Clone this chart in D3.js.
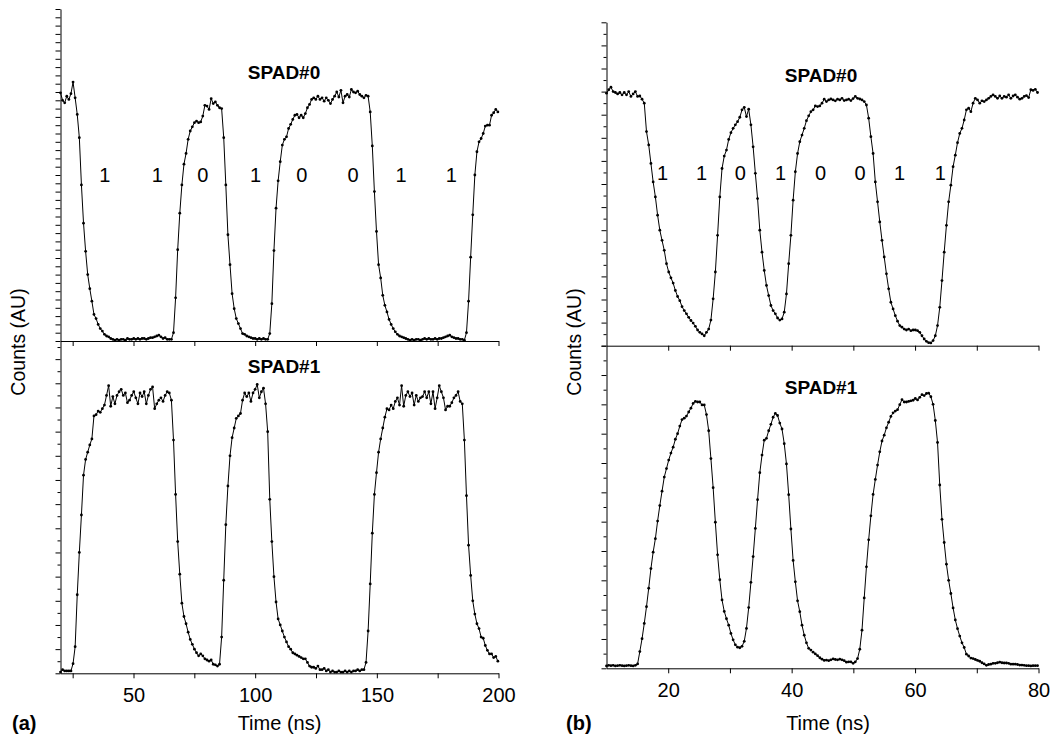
<!DOCTYPE html>
<html>
<head>
<meta charset="utf-8">
<script src="https://cdn.jsdelivr.net/npm/d3@7"></script>
<style>
  body { margin: 0; background: #fff; }
  svg text { font-family: "Liberation Sans", Arial, Helvetica, sans-serif; fill: #000; }
  .trace { fill: none; stroke: #000; stroke-width: 1; }
  .dot { fill: #000; }
  .axis path, .axis line { stroke: #000; stroke-width: 1; }
</style>
</head>
<body>
<svg id="chart" width="1063" height="735"></svg>
<script>
// sampling of the two recordings (ns)
const aStart = 20, aStep = 0.86;
const bStart = 10, bStep = 0.36;

// panel (a), 200 ns window
const aSpad0 = [
  29.9, 29.0, 28.7, 29.5, 29.1, 29.8, 31.2, 29.3, 27.3, 24.5,
  18.8, 14.2, 10.8, 8.0, 6.3, 4.8, 3.2, 2.7, 2.0, 1.5,
  1.2, 0.8, 0.6, 0.5, 0.3, 0.2, 0.1, 0.2, 0.1, 0.2,
  0.2, 0.1, 0.3, 0.2, 0.2, 0.3, 0.2, 0.3, 0.2, 0.3,
  0.3, 0.2, 0.3, 0.4, 0.4, 0.5, 0.6, 0.7, 0.5, 0.3,
  0.4, 0.2, 0.2, 0.2, 1.0, 5.2, 11.0, 15.4, 18.8, 21.3,
  22.6, 24.3, 25.3, 25.8, 26.3, 26.5, 26.3, 26.4, 27.1, 28.4,
  28.3, 27.9, 29.2, 28.6, 28.8, 28.4, 28.1, 28.0, 24.5, 18.8,
  12.8, 9.2, 5.7, 3.9, 2.7, 2.1, 1.5, 0.9, 0.8, 0.6,
  0.5, 0.4, 0.3, 0.3, 0.2, 0.3, 0.2, 0.3, 0.2, 0.2,
  0.9, 4.5, 10.9, 16.0, 19.3, 21.6, 23.6, 24.3, 24.6, 25.6,
  26.1, 26.7, 27.2, 27.3, 26.9, 27.2, 26.9, 27.4, 28.1, 28.5,
  29.1, 29.3, 29.1, 29.5, 29.1, 29.3, 28.9, 29.3, 29.0, 28.6,
  29.1, 29.5, 30.0, 29.4, 30.2, 28.7, 29.5, 29.7, 29.4, 30.3,
  30.0, 29.9, 30.1, 29.7, 29.5, 29.3, 29.6, 29.5, 27.6, 23.5,
  18.0, 13.2, 9.2, 7.6, 5.5, 4.3, 3.5, 2.6, 2.0, 1.5,
  1.1, 0.8, 0.6, 0.5, 0.4, 0.3, 0.2, 0.1, 0.2, 0.1,
  0.2, 0.2, 0.1, 0.2, 0.3, 0.2, 0.3, 0.2, 0.2, 0.3,
  0.2, 0.3, 0.3, 0.4, 0.5, 0.6, 0.7, 0.5, 0.4, 0.3,
  0.3, 0.2, 0.2, 0.1, 1.0, 4.8, 10.1, 15.2, 20.0, 22.8,
  24.0, 24.4, 25.0, 25.9, 26.0, 26.0, 27.2, 27.5, 27.9, 27.6
];
const aSpad1 = [
  0.1, 0.3, 0.2, 0.2, 0.2, 0.2, 0.8, 2.2, 6.5, 10.0,
  13.1, 16.4, 17.7, 18.3, 18.9, 19.4, 21.3, 21.4, 21.7, 21.6,
  21.9, 22.2, 23.0, 23.8, 22.1, 22.9, 22.3, 23.0, 23.3, 23.5,
  23.0, 23.2, 22.4, 22.6, 23.0, 23.3, 22.8, 22.3, 23.2, 22.9,
  23.3, 22.3, 23.0, 23.5, 23.7, 21.9, 22.3, 22.6, 22.8, 22.5,
  23.0, 23.3, 23.2, 22.6, 19.3, 14.8, 10.9, 8.2, 5.8, 4.7,
  4.1, 3.4, 2.8, 2.4, 2.0, 1.7, 1.45, 1.6, 1.45, 1.2,
  1.1, 1.0, 1.1, 0.75, 0.7, 0.6, 0.75, 3.0, 7.7, 12.3,
  15.5, 18.0, 19.5, 20.3, 21.1, 21.3, 21.5, 22.6, 23.2, 22.9,
  23.2, 22.5, 23.2, 23.5, 23.9, 22.8, 23.3, 23.6, 22.3, 20.0,
  14.4, 10.9, 8.0, 5.9, 4.5, 4.0, 3.5, 3.0, 2.6, 2.2,
  2.0, 1.7, 1.6, 1.5, 1.4, 1.3, 1.2, 1.2, 0.9, 0.6,
  0.5, 0.5, 0.4, 0.6, 0.3, 0.3, 0.4, 0.2, 0.3, 0.1,
  0.2, 0.1, 0.1, 0.2, 0.1, 0.1, 0.2, 0.1, 0.2, 0.1,
  0.2, 0.2, 0.3, 0.2, 0.3, 0.3, 0.9, 3.5, 7.4, 11.6,
  14.8, 16.6, 18.3, 19.4, 20.3, 21.2, 21.9, 21.8, 22.2, 21.9,
  22.5, 22.8, 22.2, 23.8, 22.1, 23.0, 23.3, 22.9, 23.2, 22.2,
  23.0, 22.5, 22.8, 22.9, 23.3, 22.8, 23.3, 22.3, 23.3, 21.9,
  22.8, 23.8, 23.3, 22.8, 21.8, 22.1, 22.1, 22.4, 22.8, 23.0,
  23.3, 22.5, 22.3, 19.3, 14.7, 10.6, 8.1, 6.0, 4.9, 4.1,
  3.7, 3.0, 2.9, 2.3, 1.9, 1.6, 1.6, 1.3, 1.4, 1.0
];

// panel (b), 80 ns window
const bSpad0 = [
  10.93, 11.08, 11.19, 11.0, 10.96, 10.9, 10.96, 10.86, 10.96, 10.86,
  11.0, 10.79, 10.9, 11.0, 10.79, 10.81, 10.67, 10.5, 9.27, 8.69,
  7.89, 7.09, 6.44, 5.65, 5.0, 4.56, 4.13, 3.55, 3.19, 2.94,
  2.71, 2.39, 2.13, 1.95, 1.69, 1.52, 1.38, 1.23, 1.09, 0.98,
  0.84, 0.68, 0.58, 0.51, 0.43, 0.58, 0.72, 1.11, 2.03, 3.19,
  4.78, 6.44, 7.67, 8.21, 8.47, 8.93, 9.22, 9.41, 9.56, 9.7,
  9.89, 10.21, 10.32, 9.92, 10.24, 9.56, 8.61, 7.46, 6.37, 5.0,
  4.05, 3.26, 2.61, 2.17, 1.74, 1.52, 1.38, 1.2, 1.11, 1.16,
  1.45, 2.24, 3.55, 4.78, 6.3, 7.53, 8.32, 8.83, 9.12, 9.41,
  9.74, 9.95, 10.13, 10.21, 10.38, 10.35, 10.38, 10.5, 10.67, 10.57,
  10.64, 10.68, 10.64, 10.6, 10.67, 10.64, 10.71, 10.61, 10.64, 10.67,
  10.61, 10.7, 10.79, 10.71, 10.68, 10.64, 10.57, 10.42, 9.85, 9.05,
  8.32, 7.09, 6.23, 5.36, 4.56, 3.84, 3.11, 2.46, 1.88, 1.59,
  1.3, 1.06, 0.87, 0.8, 0.72, 0.68, 0.72, 0.65, 0.68, 0.68,
  0.65, 0.58, 0.43, 0.29, 0.19, 0.13, 0.12, 0.22, 0.43, 0.87,
  1.66, 2.82, 4.05, 5.21, 6.23, 6.95, 7.75, 8.25, 8.79, 9.19,
  9.41, 9.77, 10.21, 10.28, 10.13, 10.5, 10.71, 10.64, 10.5, 10.6,
  10.57, 10.64, 10.71, 10.79, 10.86, 10.79, 10.71, 10.81, 10.71, 10.79,
  10.76, 10.86, 10.71, 10.81, 10.86, 10.76, 10.67, 10.71, 10.79, 10.83,
  10.74, 11.08, 11.05, 11.1, 10.96
];
const bSpad1 = [
  0.08, 0.1, 0.09, 0.1, 0.08, 0.09, 0.1, 0.09, 0.08, 0.09,
  0.1, 0.09, 0.08, 0.1, 0.15, 0.57, 1.01, 1.53, 2.1, 2.73,
  3.4, 3.96, 4.42, 5.02, 5.55, 6.04, 6.52, 6.81, 7.1, 7.34,
  7.54, 7.81, 8.0, 8.26, 8.48, 8.53, 8.6, 8.74, 8.87, 9.03,
  9.1, 9.08, 9.08, 8.98, 8.98, 8.65, 8.1, 7.15, 6.16, 4.98,
  3.87, 3.02, 2.33, 1.94, 1.69, 1.47, 1.19, 0.97, 0.8, 0.72,
  0.7, 0.75, 0.92, 1.36, 2.07, 2.93, 3.81, 4.77, 5.75, 6.67,
  7.27, 7.78, 7.84, 8.1, 8.32, 8.56, 8.69, 8.62, 8.36, 8.16,
  7.66, 6.97, 5.92, 4.75, 3.68, 2.95, 2.3, 1.93, 1.47, 1.13,
  0.87, 0.68, 0.62, 0.55, 0.49, 0.43, 0.36, 0.31, 0.27, 0.28,
  0.26, 0.29, 0.32, 0.3, 0.29, 0.31, 0.29, 0.26, 0.21, 0.22,
  0.22, 0.17, 0.22, 0.33, 0.65, 1.3, 2.4, 3.46, 4.38, 5.2,
  5.93, 6.44, 6.93, 7.38, 7.75, 7.95, 8.2, 8.39, 8.59, 8.71,
  8.77, 8.82, 8.99, 9.16, 9.08, 9.08, 9.1, 9.12, 9.14, 9.2,
  9.15, 9.24, 9.33, 9.3, 9.37, 9.38, 9.26, 9.0, 8.45, 7.7,
  6.25, 5.08, 4.29, 3.55, 3.0, 2.55, 2.06, 1.65, 1.35, 1.1,
  0.87, 0.71, 0.48, 0.42, 0.35, 0.33, 0.3, 0.27, 0.24, 0.19,
  0.15, 0.1, 0.13, 0.14, 0.17, 0.17, 0.19, 0.21, 0.19, 0.18,
  0.18, 0.17, 0.14, 0.14, 0.14, 0.13, 0.11, 0.11, 0.1, 0.09,
  0.09, 0.08, 0.09, 0.09, 0.09
];

// bit pattern written over SPAD#0
const bits = ["1", "1", "0", "1", "0", "0", "1", "1"];
const aBitTimes = [38.2, 59.8, 78.5, 100.2, 119.2, 140.2, 160, 180.6];
const bBitTimes = [19.1, 25.4, 31.7, 38.2, 44.7, 51.1, 57.5, 64.1];

// x ticks
const aTicks = [25, 50, 75, 100, 125, 150, 175, 200];
const aTickLabels = [50, 100, 150, 200];
const bTicks = [20, 30, 40, 50, 60, 70, 80];
const bTickLabels = [20, 40, 60, 80];

const svg = d3.select("#chart");
svg.append("rect").attr("width", 1063).attr("height", 735).attr("fill", "#fff");

// one stacked panel: two traces sharing the time axis
function drawPanel(p) {
  const g = svg.append("g");
  const x = d3.scaleLinear().domain(p.xDomain).range([p.left, p.right]);
  const yTop = d3.scaleLinear().domain([0, p.topMax]).range([p.mid, p.top]);
  const yBot = d3.scaleLinear().domain([0, p.botMax]).range([p.bottom, p.mid]);

  // y axes, long + short ticks
  [[yTop, p.topMajor, p.topMinor], [yBot, p.botMajor, p.botMinor]].forEach(([y, major, minor]) => {
    g.append("g").attr("class", "axis").attr("transform", `translate(${p.left},0)`)
      .call(d3.axisLeft(y).tickValues(major).tickSize(5).tickSizeOuter(0).tickFormat(""));
    g.append("g").attr("class", "axis").attr("transform", `translate(${p.left},0)`)
      .call(d3.axisLeft(y).tickValues(minor).tickSize(3).tickSizeOuter(0).tickFormat(""))
      .call(s => s.select(".domain").remove());
  });

  // x axis between the traces (no labels) and at the bottom
  g.append("g").attr("class", "axis").attr("transform", `translate(0,${p.mid})`)
    .call(d3.axisBottom(x).tickValues(p.ticks).tickSize(5).tickSizeOuter(0).tickFormat(""));
  const xb = g.append("g").attr("class", "axis").attr("transform", `translate(0,${p.bottom})`)
    .call(d3.axisBottom(x).tickValues(p.ticks).tickSize(5).tickSizeOuter(0).tickPadding(9.5)
      .tickFormat(d => p.tickLabels.includes(d) ? d : ""));
  xb.selectAll("text").style("font-size", "20px").attr("fill", "#000")
    .style("font-family", '"Liberation Sans", Arial, sans-serif');

  // traces with sample dots
  [[p.top0, yTop], [p.top1, yBot]].forEach(([vals, y]) => {
    const line = d3.line().x((d, i) => x(p.start + i * p.step)).y(d => y(d));
    g.append("path").datum(vals).attr("class", "trace").attr("d", line);
    g.selectAll(null).data(vals).enter().append("circle")
      .attr("class", "dot")
      .attr("cx", (d, i) => x(p.start + i * p.step))
      .attr("cy", d => y(d))
      .attr("r", 1.4);
  });

  // bits
  g.selectAll(null).data(p.bitTimes).enter().append("text")
    .attr("x", d => x(d)).attr("y", p.bitY)
    .attr("text-anchor", "middle").style("font-size", "20px")
    .text((d, i) => bits[i]);

  g.append("text").attr("x", p.spadX).attr("y", p.spad0Y).attr("text-anchor", "middle")
    .style("font-size", "19px").style("font-weight", "bold").text("SPAD#0");
  g.append("text").attr("x", p.spadX).attr("y", p.spad1Y).attr("text-anchor", "middle")
    .style("font-size", "19px").style("font-weight", "bold").text("SPAD#1");

  g.append("text").attr("transform", `translate(${p.ylabX},${p.ylabY}) rotate(-90)`)
    .attr("text-anchor", "middle").style("font-size", "19.5px").text("Counts (AU)");
  g.append("text").attr("x", p.xlabX).attr("y", 730).attr("text-anchor", "middle")
    .style("font-size", "20px").text("Time (ns)");
  g.append("text").attr("x", p.tagX).attr("y", 730)
    .style("font-size", "20px").style("font-weight", "bold").text(p.tag);
}

drawPanel({
  xDomain: [20, 200], left: 60.5, right: 498.5,
  top: 9, mid: 341, bottom: 673.3,
  topMax: 40, topMajor: d3.range(0, 41), topMinor: [],
  botMax: 27.5, botMajor: d3.range(0, 28, 2), botMinor: d3.range(1, 28, 2),
  ticks: aTicks, tickLabels: aTickLabels,
  start: aStart, step: aStep, top0: aSpad0, top1: aSpad1,
  bitTimes: aBitTimes, bitY: 182,
  spadX: 284, spad0Y: 79, spad1Y: 373,
  ylabX: 25, ylabY: 342, xlabX: 279.5, tagX: 12, tag: "(a)"
});

drawPanel({
  xDomain: [10, 80], left: 606.5, right: 1038.5,
  top: 22.3, mid: 345.7, bottom: 668.3,
  topMax: 14, topMajor: d3.range(0, 15), topMinor: d3.range(0.5, 14, 1),
  botMax: 11, botMajor: d3.range(0, 12), botMinor: d3.range(0.5, 11, 1),
  ticks: bTicks, tickLabels: bTickLabels,
  start: bStart, step: bStep, top0: bSpad0, top1: bSpad1,
  bitTimes: bBitTimes, bitY: 180,
  spadX: 821, spad0Y: 82, spad1Y: 394,
  ylabX: 581, ylabY: 342, xlabX: 828, tagX: 566, tag: "(b)"
});
</script>
</body>
</html>
